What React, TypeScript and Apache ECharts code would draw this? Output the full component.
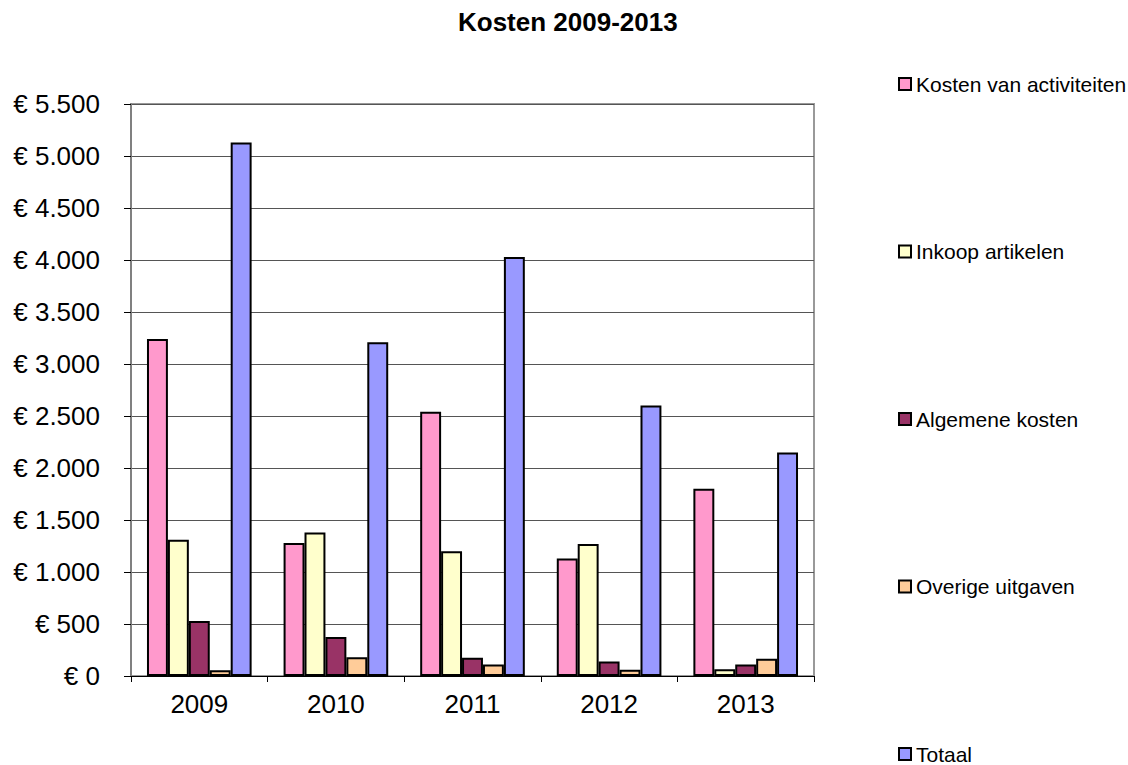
import React, { useEffect, useRef } from "react";
import * as echarts from "echarts";

const years = ["2009", "2010", "2011", "2012", "2013"];
const seriesNames = [
  "Kosten van activiteiten",
  "Inkoop artikelen",
  "Algemene kosten",
  "Overige uitgaven",
  "Totaal",
];
const kostenActiviteiten = [3240, 1280, 2540, 1130, 1800];
const inkoopArtikelen = [1310, 1380, 1200, 1270, 65];
const algemeneKosten = [530, 375, 175, 140, 110];
const overigeUitgaven = [55, 180, 110, 60, 165];
const totaal = [5130, 3210, 4030, 2600, 2150];
const colors = ["#FF99CC", "#FFFFCC", "#993366", "#FFCC99", "#9999FF"];

const FONT = "'Liberation Sans', Arial, sans-serif";

function fmt(v: number): string {
  return "€ " + String(v).replace(/\B(?=(\d{3})+(?!\d))/g, ".");
}

export default function App() {
  const ref = useRef<HTMLDivElement>(null);
  useEffect(() => {
    if (!ref.current) return;
    const chart = echarts.init(ref.current, undefined, { renderer: "svg" });
    const values = [kostenActiviteiten, inkoopArtikelen, algemeneKosten, overigeUitgaven, totaal];
    chart.setOption({
      animation: false,
      backgroundColor: "#fff",
      title: {
        text: "Kosten 2009-2013",
        left: 458,
        top: 9,
        padding: 0,
        textStyle: { fontFamily: FONT, fontSize: 26, fontWeight: "bold", color: "#000", lineHeight: 26 },
      },
      legend: {
        orient: "vertical",
        left: 898,
        top: 73.5,
        padding: 0,
        itemGap: 146.5,
        itemWidth: 12,
        itemHeight: 12,
        icon: "rect",
        itemStyle: { borderColor: "#000", borderWidth: 2 },
        textStyle: { fontFamily: FONT, fontSize: 21, color: "#000", lineHeight: 21, padding: [0, 0, 0, 0] },
        data: seriesNames,
      },
      grid: {
        left: 131,
        right: 314,
        top: 104,
        bottom: 89,
        show: true,
        borderColor: "#999",
        borderWidth: 2,
        containLabel: false,
      },
      xAxis: {
        type: "category",
        data: years,
        boundaryGap: true,
        axisLine: { lineStyle: { color: "#000", width: 1 } },
        axisTick: { show: true, length: 6, lineStyle: { color: "#000" } },
        axisLabel: { fontFamily: FONT, fontSize: 26, color: "#000", margin: 15 },
      },
      yAxis: {
        type: "value",
        min: 0,
        max: 5500,
        interval: 500,
        axisLine: { show: true, lineStyle: { color: "#808080", width: 2 } },
        axisTick: { show: true, length: 7, lineStyle: { color: "#000" } },
        splitLine: { show: true, lineStyle: { color: "#555", width: 1 } },
        axisLabel: {
          fontFamily: FONT,
          fontSize: 26,
          color: "#000",
          margin: 31,
          formatter: (v: number) => fmt(v),
        },
      },
      series: seriesNames.map((name, i) => ({
        name,
        type: "bar",
        data: values[i],
        barGap: "0%",
        barCategoryGap: "23.4%",
        itemStyle: { color: colors[i], borderColor: "#000", borderWidth: 2 },
      })),
    });
    return () => chart.dispose();
  }, []);
  return (
    <div
      ref={ref}
      style={{ position: "fixed", left: 0, top: 0, width: 1128, height: 765 }}
    />
  );
}
